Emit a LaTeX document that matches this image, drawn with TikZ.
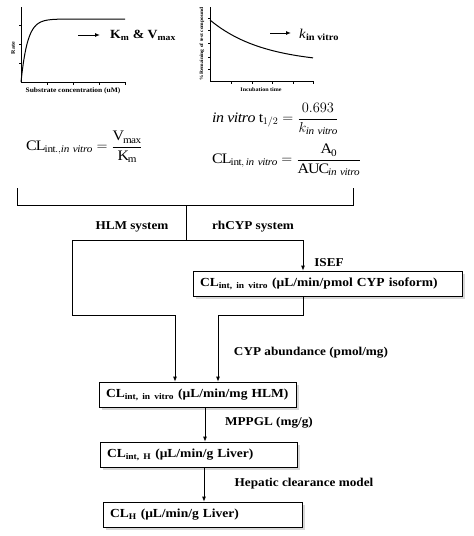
\documentclass[tikz,border=0pt]{standalone}
\usepackage{amsmath}
\usepackage{fontspec}
\setmainfont[FakeStretch=1.1]{Liberation Serif}
\usetikzlibrary{arrows.meta,shadows}
\begin{document}
\begin{tikzpicture}[x=1pt,y=-1pt,
 arr/.style={-{Latex[length=5pt,width=4pt]}, line width=0.8pt},
 ln/.style={line width=0.8pt},
 box/.style={draw, line width=0.8pt, fill=white, inner xsep=7pt, inner ysep=0pt,
   minimum height=25pt, align=left,
   drop shadow={shadow xshift=2.5pt,shadow yshift=-2.5pt,fill=black!30},
   font=\bfseries\fontsize{12.3}{13}\selectfont},
 lab/.style={font=\bfseries\fontsize{12}{13}\selectfont, inner sep=1pt},
 ax/.style={line width=0.6pt},
 tiny/.style={font=\bfseries\fontsize{5.5}{6}\selectfont, inner sep=0pt},
 eq/.style={font=\fontsize{14.5}{16}\selectfont, inner sep=0pt, anchor=west},
]
\useasboundingbox (0,0) rectangle (474,536);

% ---------- left graph ----------
\draw[ax] (21,7) -- (21,82) -- (125,82);
\foreach \yy in {25,44,63} \draw[ax] (21,\yy) -- (18.5,\yy);
\foreach \xx in {47,73,99,125} \draw[ax] (\xx,82) -- (\xx,84.5);
\draw[line width=1pt, domain=21:125, samples=90] plot (\x, {19+63*exp(-(\x-21)/6.5)});
\node[tiny, rotate=90] (rate) at (13,48) {Rate};
\node[tiny, font=\bfseries\fontsize{6.8}{7}\selectfont] (subs) at (73,91) {Substrate concentration (uM)};
\coordinate (a1s) at (78,35);
\coordinate (a1e) at (100,35);
\draw[arr, line width=1pt] (a1s) -- (a1e);
\node[anchor=west, inner sep=0pt, font=\bfseries\fontsize{12.5}{14}\selectfont] (kmv) at (110,35) {K\textsubscript{m} \& V\textsubscript{max}};

% ---------- right graph ----------
\draw[ax] (210,7) -- (210,81) -- (313,81);
\foreach \yy in {18,30,43,57,69} \draw[ax] (210,\yy) -- (207.5,\yy);
\foreach \xx in {231,252,272,293,313} \draw[ax] (\xx,81) -- (\xx,83.5);
\draw[line width=1pt, domain=210:313, samples=90] plot (\x, {64.2-44.2*exp(-(\x-210)/53)});
\node[rotate=90, inner sep=0pt, font=\bfseries\fontsize{5}{6}\selectfont] (rem) at (202,44) {\%Remaining of test compound};
\node[tiny] (inc) at (261,90) {Incubation time};
\coordinate (a2s) at (270,33);
\coordinate (a2e) at (291,33);
\draw[arr, line width=1pt] (a2s) -- (a2e);
\node[anchor=west, inner sep=0pt, font=\fontsize{13.5}{15}\selectfont] (kin) at (299,35) {\textit{k}\textsubscript{\bfseries in vitro}};

% ---------- equations ----------
\node[eq] (eq1) at (26,147) {$\mathrm{CL}_{\mathrm{int.,}\mathit{in\ vitro}} = \dfrac{\mathrm{V_{max}}}{\mathrm{K_m}}$};
\node[eq] (eq2) at (212,119) {$\mathit{in\ vitro}\ \mathrm{t}_{1/2} = \dfrac{0.693}{k_{\mathit{in\ vitro}}}$};
\node[eq] (eq3) at (212,160) {$\mathrm{CL}_{\mathrm{int,}\,\mathit{in\ vitro}} = \dfrac{\mathrm{A_0}}{\mathrm{AUC}_{\mathit{in\ vitro}}}$};

% ---------- bracket ----------
\coordinate (bLt) at (17,188);
\coordinate (bRt) at (353,188);
\coordinate (bL) at (17,205);
\coordinate (bR) at (353,205);
\coordinate (bM) at (186,205);
\coordinate (split) at (186,240);
\coordinate (hl) at (72,240);
\coordinate (hr) at (303,240);
\draw[ln] (bLt) -- (bL) -- (bR) -- (bRt);
\draw[ln] (bM) -- (split);
\draw[ln] (hl) -- (hr);

% ---------- boxes ----------
\node[box, text width=255pt] (box2) at (327.5,283.5) {CL\textsubscript{int, in vitro} (μL/min/pmol CYP isoform)};
\node[box, text width=183pt] (box3) at (197.5,394.5) {CL\textsubscript{int, in vitro} (μL/min/mg HLM)};
\node[box, text width=183pt] (box4) at (198.5,454.5) {CL\textsubscript{int, H} (μL/min/g Liver)};
\node[box, text width=185pt] (box5) at (202.5,514.5) {CL\textsubscript{H} (μL/min/g Liver)};

% ---------- connectors ----------
\coordinate (jL) at (175,315);
\coordinate (jR) at (218,315);
\draw[arr] (hr) -- (hr |- box2.north);
\draw[ln] (hl) |- (jL);
\draw[arr] (jL) -- (jL |- box3.north);
\draw[ln] (hr |- box2.south) |- (jR);
\draw[arr] (jR) -- (jR |- box3.north);
\coordinate (c34) at (205,0);
\coordinate (c45) at (204,0);
\draw[arr] (c34 |- box3.south) -- (c34 |- box4.north);
\draw[arr] (c45 |- box4.south) -- (c45 |- box5.north);

% ---------- labels ----------
\node[lab] (hlm) at (132,227) {HLM system};
\node[lab] (rh) at (253,227) {rhCYP system};
\node[lab] (isef) at (329,263) {ISEF};
\node[lab] (cypa) at (311,353) {CYP abundance (pmol/mg)};
\node[lab] (mppgl) at (269,423) {MPPGL (mg/g)};
\node[lab] (hep) at (304,484) {Hepatic clearance model};
\end{tikzpicture}
\end{document}
